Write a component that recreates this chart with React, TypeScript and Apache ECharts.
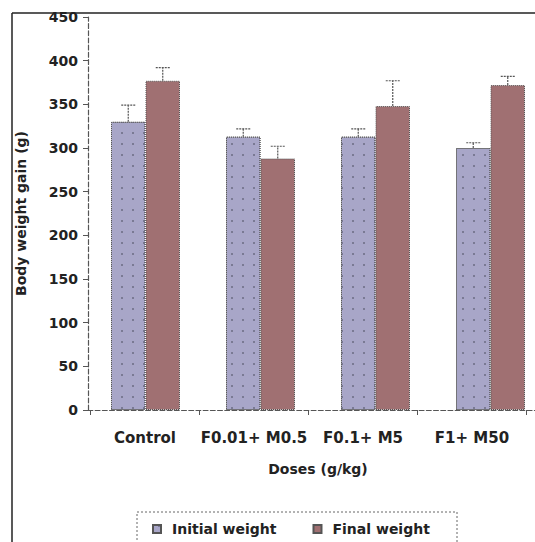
import React, { useEffect, useRef } from "react";
import * as echarts from "echarts";

const categories = ["Control", "F0.01+ M0.5", "F0.1+ M5", "F1+ M50"];
const initialWeight = [330, 313, 313, 300];
const initialSD = [19, 9, 9, 6];
const finalWeight = [377, 288, 348, 372];
const finalSD = [15, 14, 29, 10];
const yTicks = { min: 0, max: 450, interval: 50 };

const FONT = "DejaVu Sans";

function errSeries(name: string, values: number[], sds: number[], sign: number) {
  return {
    type: "custom",
    name,
    z: 5,
    silent: true,
    data: values.map((v, i) => [i, v, v + sds[i]]),
    renderItem: (params: any, api: any) => {
      const x = api.value(0);
      const base = api.coord([x, api.value(1)]);
      const top = api.coord([x, api.value(2)]);
      const band = api.size([1, 0])[0];
      const px = base[0] + sign * band * 0.15;
      const style = { stroke: "#555", lineWidth: 1.2, lineDash: [2, 1] };
      return {
        type: "group",
        children: [
          { type: "line", shape: { x1: px, y1: base[1], x2: px, y2: top[1] }, style },
          { type: "line", shape: { x1: px - 7, y1: top[1], x2: px + 7, y2: top[1] }, style },
        ],
      };
    },
  };
}

export default function App() {
  const ref = useRef<HTMLDivElement>(null);
  useEffect(() => {
    const chart = echarts.init(ref.current!, null, { renderer: "svg" });
    chart.setOption({
      animation: false,
      backgroundColor: "#ffffff",
      textStyle: { fontFamily: FONT },
      grid: [
        { left: 88, top: 17, width: 460, height: 393, containLabel: false },
        { left: 90.5, top: 17, width: 436, height: 393, containLabel: false },
      ],
      legend: {
        data: ["Initial weight", "Final weight"],
        left: 147,
        top: 517,
        icon: "path://M0,0h8v8h-8z",
        itemWidth: 20,
        itemHeight: 8,
        itemGap: 36,
        textStyle: { fontFamily: FONT, fontWeight: "bold", fontSize: 14, color: "#222" },
      },
      xAxis: [
        {
          type: "category",
          gridIndex: 0,
          data: categories,
          name: "Doses (g/kg)",
          nameLocation: "middle",
          nameGap: 52,
          nameTextStyle: { fontFamily: FONT, fontWeight: "bold", fontSize: 14, color: "#222" },
          axisLine: { lineStyle: { color: "#555", type: "dashed", width: 1.2 } },
          axisTick: { show: false },
          axisLabel: { show: false },
        },
        {
          type: "category",
          gridIndex: 1,
          data: categories,
          axisLine: { show: false },
          axisTick: { show: true, length: 5, lineStyle: { color: "#555" } },
          axisLabel: { interval: 0, margin: 20, fontFamily: FONT, fontWeight: "bold", fontSize: 15, color: "#222" },
        },
      ],
      yAxis: [
        {
          type: "value",
          gridIndex: 0,
          min: yTicks.min,
          max: yTicks.max,
          interval: yTicks.interval,
          name: "Body weight gain (g)",
          nameLocation: "middle",
          nameGap: 60,
          nameTextStyle: { fontFamily: FONT, fontWeight: "bold", fontSize: 14, color: "#222" },
          axisLine: { show: true, lineStyle: { color: "#555", type: "dashed", width: 1.2 } },
          axisTick: { show: true, length: 5, lineStyle: { color: "#555" } },
          axisLabel: { margin: 10, fontFamily: FONT, fontWeight: "bold", fontSize: 14, color: "#222" },
          splitLine: { show: false },
        },
        {
          type: "value",
          gridIndex: 1,
          min: yTicks.min,
          max: yTicks.max,
          interval: yTicks.interval,
          show: false,
        },
      ],
      series: [
        {
          type: "bar",
          name: "Initial weight",
          data: initialWeight,
          barGap: "0%",
          barCategoryGap: "40%",
          itemStyle: {
            color: "#a8a6c8",
            borderColor: "#555",
            borderWidth: 1,
            borderType: "dotted",
            decal: {
              symbol: "rect",
              symbolSize: 1,
              color: "#7a7a94",
              dashArrayX: [2, 9],
              dashArrayY: [2, 9],
              rotation: 0,
            },
          },
        },
        {
          type: "bar",
          name: "Final weight",
          data: finalWeight,
          barGap: "0%",
          barCategoryGap: "40%",
          itemStyle: {
            color: "#a07072",
            borderColor: "#555",
            borderWidth: 1,
            borderType: "dotted",
          },
        },
        errSeries("Initial SD", initialWeight, initialSD, -1),
        errSeries("Final SD", finalWeight, finalSD, 1),
      ],
      graphic: [
        { type: "line", shape: { x1: 12, y1: 13, x2: 535, y2: 13 }, style: { stroke: "#222", lineWidth: 1.5 }, z: 10 },
        { type: "line", shape: { x1: 12, y1: 13, x2: 12, y2: 542 }, style: { stroke: "#222", lineWidth: 1.5 }, z: 10 },
        {
          type: "rect",
          shape: { x: 137, y: 512, width: 320, height: 50 },
          style: { fill: "none", stroke: "#666", lineWidth: 1, lineDash: [2, 2] },
          z: 10,
        },
      ],
    });
    return () => chart.dispose();
  }, []);
  return (
    <div style={{ position: "absolute", left: 0, top: 0, width: 535, height: 542, overflow: "hidden" }}>
      <div ref={ref} style={{ width: 560, height: 542 }} />
    </div>
  );
}
